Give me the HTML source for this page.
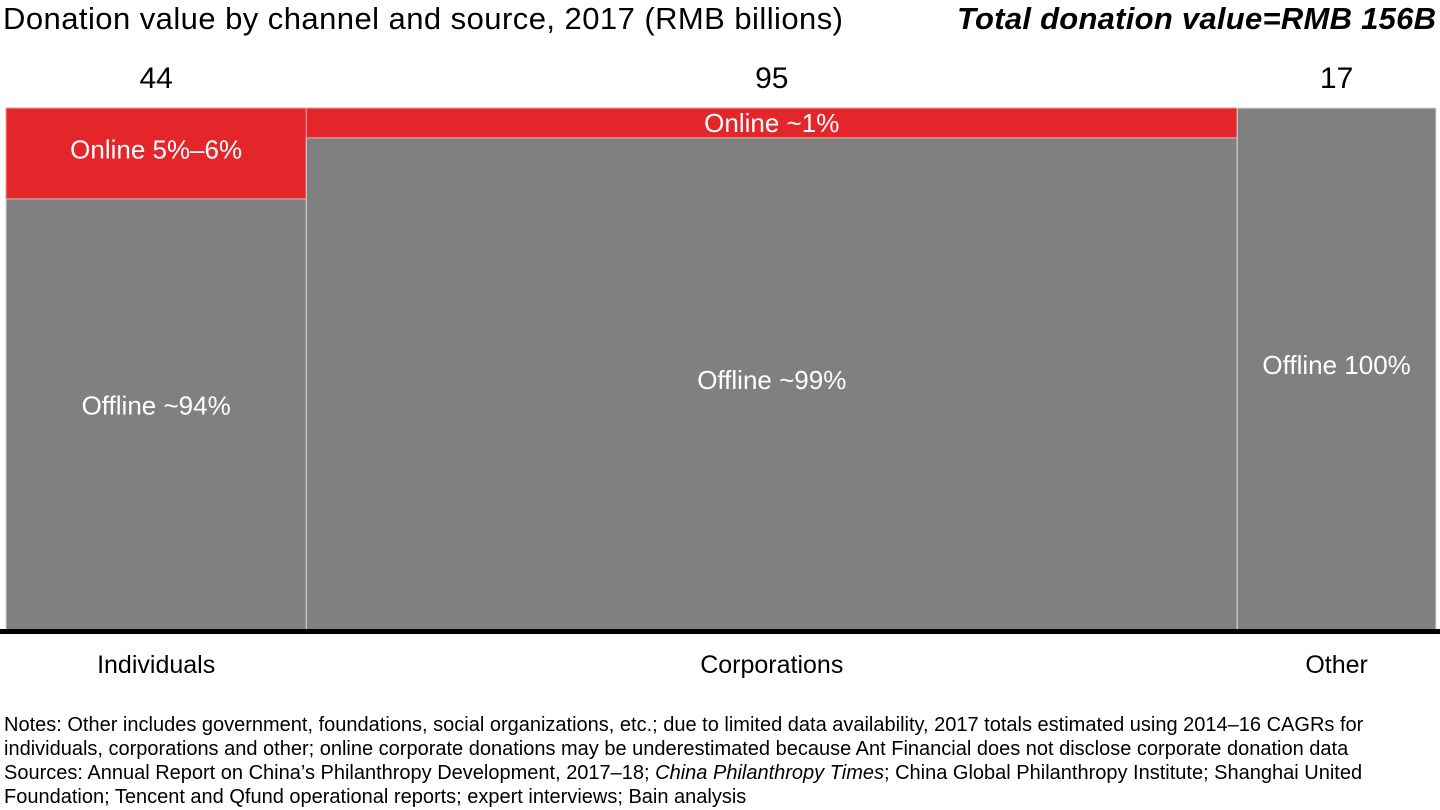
<!DOCTYPE html>
<html><head><meta charset="utf-8"><style>
body{margin:0;width:1440px;height:810px;background:#fff;overflow:hidden;font-family:"Liberation Sans",Arial,sans-serif}
svg{position:absolute;left:0;top:0}
.notes{position:absolute;left:4px;top:713px;font-size:20px;line-height:24px;color:#000;width:1375px}
</style></head><body>
<svg id="chart" width="1440" height="810" xmlns="http://www.w3.org/2000/svg">
<text x="3" y="29" font-size="31" textLength="840" font-family="Liberation Sans, sans-serif">Donation value by channel and source, 2017 (RMB billions)</text>
<text x="1436" y="29" font-size="31" font-weight="bold" font-style="italic" text-anchor="end" textLength="479" font-family="Liberation Sans, sans-serif">Total donation value=RMB 156B</text>
</svg>
<div class="notes">Notes: Other includes government, foundations, social organizations, etc.; due to limited data availability, 2017 totals estimated using 2014–16 CAGRs for individuals, corporations and other; online corporate donations may be underestimated because Ant Financial does not disclose corporate donation data<br>Sources: Annual Report on China’s Philanthropy Development, 2017–18; <i>China Philanthropy Times</i>; China Global Philanthropy Institute; Shanghai United Foundation; Tencent and Qfund operational reports; expert interviews; Bain analysis</div>
<script>
const categories = ["Individuals", "Corporations", "Other"];
const totals = [44, 95, 17];
const columnShare = [21.0, 65.1, 13.9];
const onlineShare = [17.4, 5.7, 0];
const onlineLabels = ["Online 5%–6%", "Online ~1%", ""];
const offlineLabels = ["Offline ~94%", "Offline ~99%", "Offline 100%"];

const svg = document.getElementById('chart');
const NS = "http://www.w3.org/2000/svg";
const X0 = 6, X1 = 1436, Y0 = 108, Y1 = 630;
const sumShare = columnShare.reduce((a,b)=>a+b,0);
const xScale = v => X0 + v / sumShare * (X1 - X0);
const yScale = p => Y0 + p / 100 * (Y1 - Y0);
function mk(tag, attrs){const e=document.createElementNS(NS,tag);for(const k in attrs)e.setAttribute(k,attrs[k]);svg.appendChild(e);return e;}
function txt(x,y,s,size,fill){const t=mk('text',{x:x,y:y,'font-size':size,fill:fill,'text-anchor':'middle','font-family':'Liberation Sans, sans-serif'});t.textContent=s;return t;}
let cum = 0;
categories.forEach((c,i)=>{
  const xa = xScale(cum), xb = xScale(cum + columnShare[i]); cum += columnShare[i];
  const cx = (xa+xb)/2;
  const ym = yScale(onlineShare[i]);
  const off = mk('rect',{x:xa,y:ym,width:xb-xa,height:Y1-ym,fill:'#808080',stroke:'#d8d8d8','stroke-width':1});
  
  
  if(onlineShare[i]>0){
    const on = mk('rect',{x:xa,y:Y0,width:xb-xa,height:ym-Y0,fill:'#E42529',stroke:'#f0a0a0','stroke-width':1});
    
    
    const ol = txt(cx,(Y0+ym)/2+(onlineShare[i]>10?5:9),onlineLabels[i],26,'#fff');
    
    
  }
  const fl = txt(cx,(ym+Y1)/2+(onlineShare[i]>10?0:5),offlineLabels[i],26,'#fff');
  
  
  const tl = txt(cx,88,String(totals[i]),30,'#000');
  
  
  const cl = txt(cx,673,c,25,'#000');
  
  
});
const ax = mk('rect',{x:0,y:629,width:1440,height:5,fill:'#000'});


</script>
</body></html>
